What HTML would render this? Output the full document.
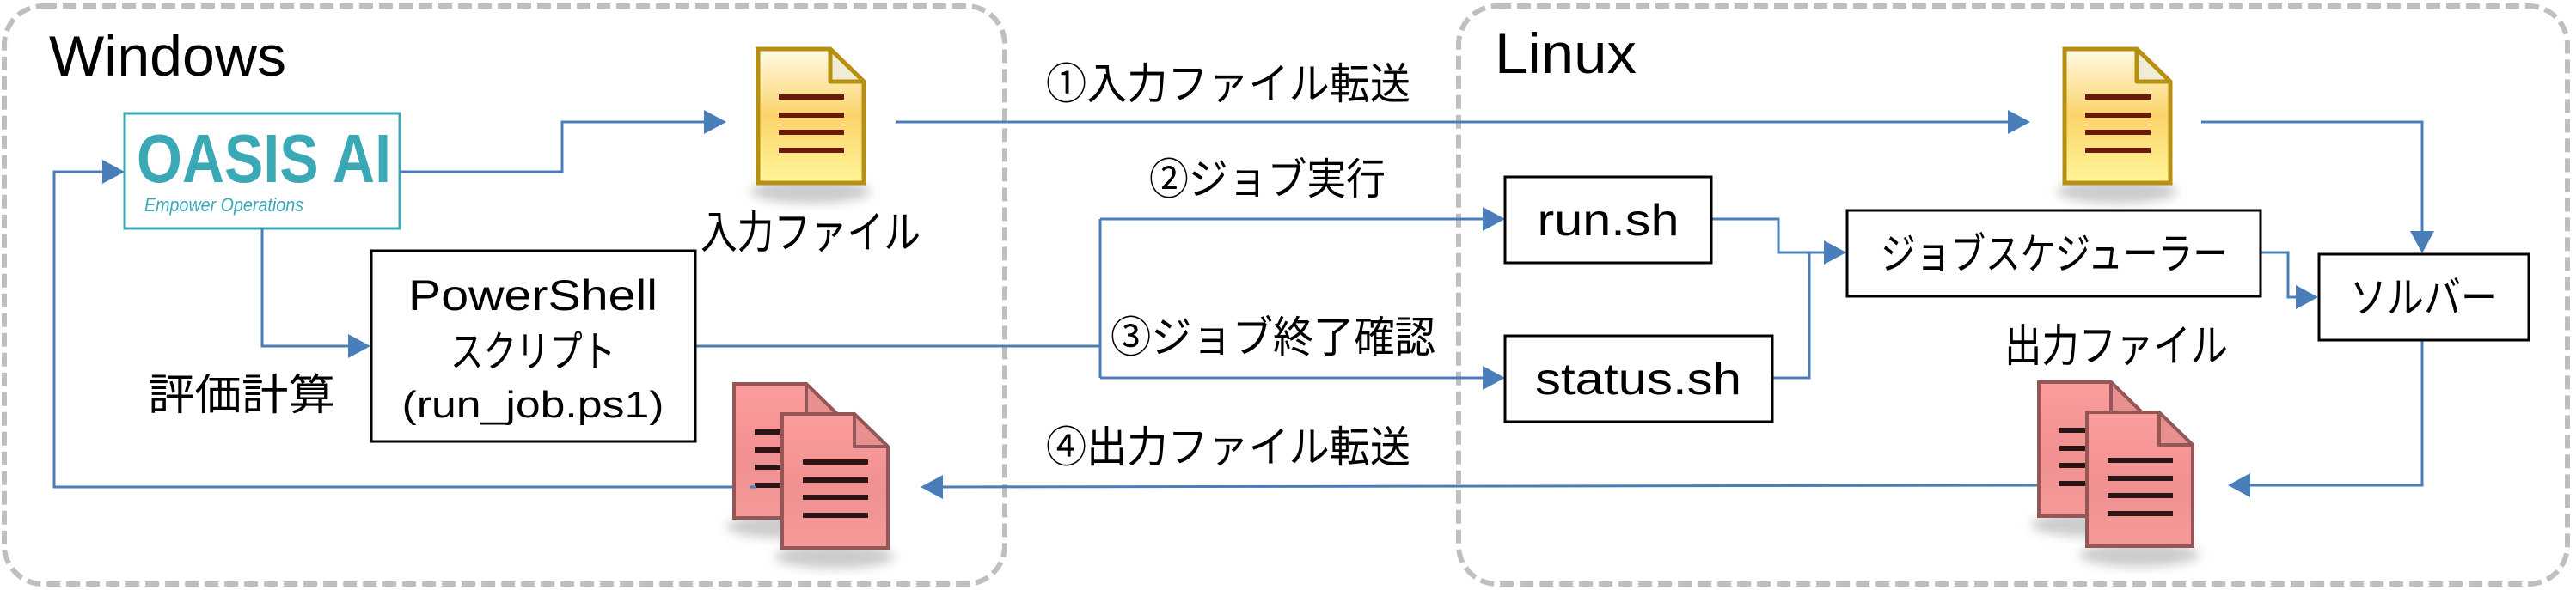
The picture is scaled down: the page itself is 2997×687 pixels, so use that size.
<!DOCTYPE html>
<html><head><meta charset="utf-8"><style>
html,body{margin:0;padding:0;background:#fff;}
svg{display:block;}
text{font-family:"Liberation Sans","Noto Sans CJK JP",sans-serif;fill:#000;}
</style></head><body>
<svg width="2997" height="687" viewBox="0 0 2997 687" xmlns="http://www.w3.org/2000/svg">
<defs>
<linearGradient id="yg" x1="0" y1="0" x2="0" y2="1">
<stop offset="0" stop-color="#fffbe6"/><stop offset="0.5" stop-color="#fbd36a"/><stop offset="1" stop-color="#fff59a"/></linearGradient>
<linearGradient id="rg" x1="0" y1="0" x2="0" y2="1">
<stop offset="0" stop-color="#fc9d9d"/><stop offset="0.55" stop-color="#f09090"/><stop offset="1" stop-color="#f59a9a"/></linearGradient>
<filter id="sh" x="-30%" y="-30%" width="160%" height="160%"><feGaussianBlur stdDeviation="6"/></filter>
<g id="ydoc">
<ellipse cx="63" cy="168" rx="70" ry="14" fill="#999" opacity="0.5" filter="url(#sh)"/>
<path d="M2,2 H86 L125,40 V158 H2 Z" fill="url(#yg)" stroke="#b8900f" stroke-width="5"/>
<path d="M86,2 V40 H125 Z" fill="#f0ecd8" stroke="#b8900f" stroke-width="5" stroke-linejoin="round"/>
<g stroke="#6a1a0a" stroke-width="6"><line x1="26" y1="58" x2="102" y2="58"/><line x1="26" y1="79" x2="102" y2="79"/><line x1="26" y1="99" x2="102" y2="99"/><line x1="26" y1="120" x2="102" y2="120"/></g>
</g>
<g id="rdoc">
<ellipse cx="63" cy="168" rx="70" ry="14" fill="#999" opacity="0.5" filter="url(#sh)"/>
<path d="M2,2 H86 L125,40 V158 H2 Z" fill="url(#rg)" stroke="#945656" stroke-width="4"/>
<path d="M86,2 V40 H125 Z" fill="#e89090" stroke="#945656" stroke-width="4" stroke-linejoin="round"/>
<g stroke="#2a1414" stroke-width="6"><line x1="26" y1="58" x2="102" y2="58"/><line x1="26" y1="79" x2="102" y2="79"/><line x1="26" y1="99" x2="102" y2="99"/><line x1="26" y1="120" x2="102" y2="120"/></g>
</g>
</defs>

<rect x="5" y="7" width="1164" height="673" rx="45" fill="none" stroke="#bfbfbf" stroke-width="6" stroke-dasharray="16,7"/>
<rect x="1697" y="7" width="1290" height="673" rx="45" fill="none" stroke="#bfbfbf" stroke-width="6" stroke-dasharray="16,7"/>

<text x="57" y="88" font-size="66" textLength="276" lengthAdjust="spacingAndGlyphs">Windows</text>
<text x="1739" y="85" font-size="66" textLength="165" lengthAdjust="spacingAndGlyphs">Linux</text>

<rect x="145" y="132" width="320" height="134" fill="#fff" stroke="#3aa8b5" stroke-width="3"/>
<text x="159" y="212" font-size="80" font-weight="bold" style="fill:#3aa8b5" textLength="296" lengthAdjust="spacingAndGlyphs">OASIS AI</text>
<text x="168" y="246" font-size="22" font-style="italic" style="fill:#3aa8b5" textLength="185" lengthAdjust="spacingAndGlyphs">Empower Operations</text>

<g fill="none" stroke="#4a7ebb" stroke-width="3">
<polyline points="465,200 654,200 654,142 825,142"/>
<polyline points="1043,142 2340,142"/>
<polyline points="2561,142 2818,142 2818,273"/>
<polyline points="305,266 305,403 411,403"/>
<polyline points="809,403 1280,403"/>
<polyline points="1280,255 1280,440"/>
<polyline points="1280,255 1730,255"/>
<polyline points="1280,440 1730,440"/>
<polyline points="1991,255 2069,255 2069,294 2128,294"/>
<polyline points="2062,440 2105,440 2105,294"/>
<polyline points="2630,294 2662,294 2662,346 2677,346"/>
<polyline points="2818,396 2818,565 2612,565"/>
<polyline points="2392,565 1091,567"/>
<polyline points="872,567 63,567 63,200 124,200"/>
</g>
<g fill="#4a7ebb">
<polygon points="845,142 819,128 819,156"/>
<polygon points="2362,142 2336,128 2336,156"/>
<polygon points="2818,295 2804,269 2832,269"/>
<polygon points="431,403 405,389 405,417"/>
<polygon points="1751,255 1725,241 1725,269"/>
<polygon points="1751,440 1725,426 1725,454"/>
<polygon points="2148,294 2122,280 2122,308"/>
<polygon points="2697,346 2671,332 2671,360"/>
<polygon points="2592,565 2618,551 2618,579"/>
<polygon points="1071,567 1097,553 1097,581"/>
<polygon points="145,200 119,186 119,214"/>
</g>

<use href="#ydoc" x="880" y="55"/>
<use href="#ydoc" x="2400" y="55"/>
<use href="#rdoc" x="852" y="445"/>
<use href="#rdoc" x="908" y="480"/>
<use href="#rdoc" x="2370" y="443"/>
<use href="#rdoc" x="2426" y="478"/>
<line x1="872" y1="567" x2="880" y2="567" stroke="#4a7ebb" stroke-width="3"/>

<text x="815" y="289" font-size="52" textLength="256" lengthAdjust="spacingAndGlyphs">入力ファイル</text>
<text x="2332" y="421" font-size="52" textLength="260" lengthAdjust="spacingAndGlyphs">出力ファイル</text>

<rect x="432" y="292" width="377" height="222" fill="#fff" stroke="#000" stroke-width="3"/>
<text x="620" y="361" font-size="50" text-anchor="middle" textLength="290" lengthAdjust="spacingAndGlyphs">PowerShell</text>
<text x="620" y="427" font-size="50" text-anchor="middle" textLength="192" lengthAdjust="spacingAndGlyphs">スクリプト</text>
<text x="620" y="486" font-size="44" text-anchor="middle" textLength="305" lengthAdjust="spacingAndGlyphs">(run_job.ps1)</text>
<text x="172" y="477" font-size="50" textLength="218" lengthAdjust="spacingAndGlyphs">評価計算</text>

<text x="1217" y="115" font-size="50" textLength="424" lengthAdjust="spacingAndGlyphs">①入力ファイル転送</text>
<text x="1337" y="226" font-size="50" textLength="275" lengthAdjust="spacingAndGlyphs">②ジョブ実行</text>
<text x="1292" y="410" font-size="50" textLength="378" lengthAdjust="spacingAndGlyphs">③ジョブ終了確認</text>
<text x="1217" y="538" font-size="50" textLength="424" lengthAdjust="spacingAndGlyphs">④出力ファイル転送</text>

<rect x="1751" y="206" width="240" height="100" fill="#fff" stroke="#000" stroke-width="3"/>
<text x="1871" y="274" font-size="52" text-anchor="middle" textLength="165" lengthAdjust="spacingAndGlyphs">run.sh</text>
<rect x="1751" y="391" width="311" height="100" fill="#fff" stroke="#000" stroke-width="3"/>
<text x="1906" y="459" font-size="52" text-anchor="middle" textLength="240" lengthAdjust="spacingAndGlyphs">status.sh</text>
<rect x="2149" y="245" width="481" height="100" fill="#fff" stroke="#000" stroke-width="3"/>
<text x="2390" y="313" font-size="50" text-anchor="middle" textLength="404" lengthAdjust="spacingAndGlyphs">ジョブスケジューラー</text>
<rect x="2698" y="296" width="244" height="100" fill="#fff" stroke="#000" stroke-width="3"/>
<text x="2820" y="364" font-size="50" text-anchor="middle" textLength="172" lengthAdjust="spacingAndGlyphs">ソルバー</text>
</svg>
</body></html>
